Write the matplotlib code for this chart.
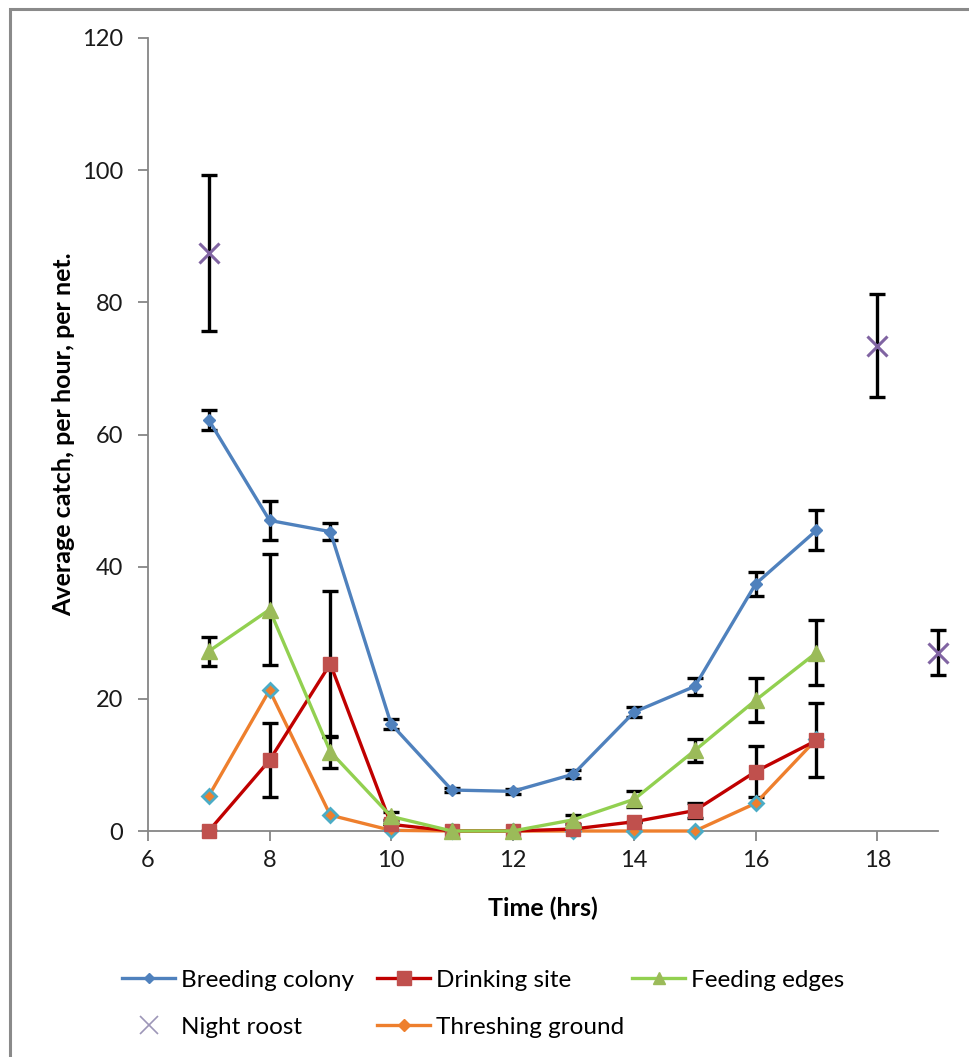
import matplotlib
matplotlib.use("Agg")
import matplotlib.pyplot as plt
from matplotlib.patches import Rectangle
from matplotlib.lines import Line2D

plt.rcParams['font.family'] = ['Lato', 'DejaVu Sans']

hours = [7, 8, 9, 10, 11, 12, 13, 14, 15, 16, 17]

breeding = [62.2, 47.0, 45.3, 16.2, 6.2, 6.0, 8.6, 18.0, 21.9, 37.4, 45.5]
breeding_err = [1.5, 2.9, 1.3, 0.8, 0.3, 0.4, 0.6, 0.7, 1.3, 1.8, 3.0]

drinking = [0.0, 10.7, 25.3, 1.0, 0.0, 0.0, 0.3, 1.4, 3.1, 9.0, 13.7]
drinking_err = [0.0, 5.6, 11.0, 0.0, 0.0, 0.0, 0.0, 0.0, 1.2, 3.8, 5.6]

feeding = [27.2, 33.5, 12.0, 2.2, 0.0, 0.0, 1.7, 4.8, 12.2, 19.8, 27.0]
feeding_err = [2.2, 8.4, 2.4, 0.6, 0.0, 0.0, 0.7, 1.2, 1.7, 3.3, 4.9]

threshing = [5.3, 21.3, 2.4, 0.1, 0.0, 0.0, 0.0, 0.0, 0.0, 4.2, 13.9]

roost_hours = [7, 18, 19]
roost = [87.5, 73.4, 27.0]
roost_err = [11.8, 7.8, 3.4]

y_ticks = [0, 20, 40, 60, 80, 100, 120]
x_ticks = [6, 8, 10, 12, 14, 16, 18]

fig = plt.figure(figsize=(9.7, 10.57), dpi=100)
W, H = 970, 1057
ax = fig.add_axes([148 / W, 1 - 831 / H, (938 - 148) / W, (831 - 38) / H])

# figure border
fig.patches.append(Rectangle((10 / W, -0.01), 1.0, 1 - 9 / H + 0.01, transform=fig.transFigure,
                             fill=False, edgecolor='#8a8a8a', linewidth=2.2, clip_on=False))

err_kw = dict(ecolor='black', elinewidth=2.4, capsize=6, capthick=2.4, zorder=2)

ax.errorbar(hours, breeding, yerr=breeding_err, fmt='none', **err_kw)
ax.errorbar(hours, drinking, yerr=drinking_err, fmt='none', **err_kw)
ax.errorbar(hours, feeding, yerr=feeding_err, fmt='none', **err_kw)
ax.errorbar(roost_hours, roost, yerr=roost_err, fmt='none', clip_on=False, **err_kw)

ax.plot(hours, threshing, color='#EE7F2D', lw=2.4, marker='D', ms=7.5,
        mfc='#EE7F2D', mec='#4BACC6', mew=2, zorder=3, clip_on=False)
ax.plot(hours, drinking, color='#C00000', lw=2.4, marker='s', ms=10.5,
        mfc='#C0504D', mec='#C0504D', zorder=4, clip_on=False)
ax.plot(hours, feeding, color='#92D050', lw=2.4, marker='^', ms=11,
        mfc='#9BBB59', mec='#9BBB59', zorder=5, clip_on=False)
ax.plot(hours, breeding, color='#4F81BD', lw=2.4, marker='D', ms=6,
        mfc='#4F81BD', mec='#4F81BD', zorder=6, clip_on=False)
ax.plot(roost_hours, roost, linestyle='none', marker='x', ms=15, mew=2.2,
        color='#8064A2', zorder=7, clip_on=False)

ax.set_xlim(6, 19)
ax.set_ylim(0, 120)
ax.set_xticks(x_ticks)
ax.set_yticks(y_ticks)
for s in ['top', 'right']:
    ax.spines[s].set_visible(False)
for s in ['left', 'bottom']:
    ax.spines[s].set_color('#868686')
    ax.spines[s].set_linewidth(1.3)
ax.tick_params(axis='both', direction='out', length=7, width=1.3, color='#868686',
               labelsize=17, labelcolor='#1a1a1a', pad=7)
ax.tick_params(axis='y', pad=11)

ax.set_xlabel('Time (hrs)', fontsize=18, fontweight='bold', labelpad=18)
ax.set_ylabel('Average catch, per hour, per net.', fontsize=18, fontweight='bold', labelpad=5)

handles = [
    Line2D([], [], color='#4F81BD', lw=2.4, marker='D', ms=5, mfc='#4F81BD', mec='#4F81BD'),
    Line2D([], [], color='#C00000', lw=2.4, marker='s', ms=10, mfc='#C0504D', mec='#C0504D'),
    Line2D([], [], color='#92D050', lw=2.4, marker='^', ms=9, mfc='#9BBB59', mec='#9BBB59'),
    Line2D([], [], linestyle='none', marker='x', ms=13, mew=1.2, color='#9d96b8'),
    Line2D([], [], color='#EE7F2D', lw=2.4, marker='D', ms=6, mfc='#EE7F2D', mec='#EE7F2D'),
]
labels = ['Breeding colony', 'Drinking site', 'Feeding edges', 'Night roost', 'Threshing ground']
leg_x = [122, 377, 632, 122, 377]
leg_y = [980, 980, 980, 1027, 1027]
for h, l, lx, ly in zip(handles, labels, leg_x, leg_y):
    fig.legend([h], [l], loc='center left', bbox_to_anchor=(lx / W, 1 - ly / H),
               frameon=False, fontsize=17.5, handlelength=2.2, handletextpad=0.22,
               borderpad=0, borderaxespad=0)

fig.savefig('out.png', dpi=100)
